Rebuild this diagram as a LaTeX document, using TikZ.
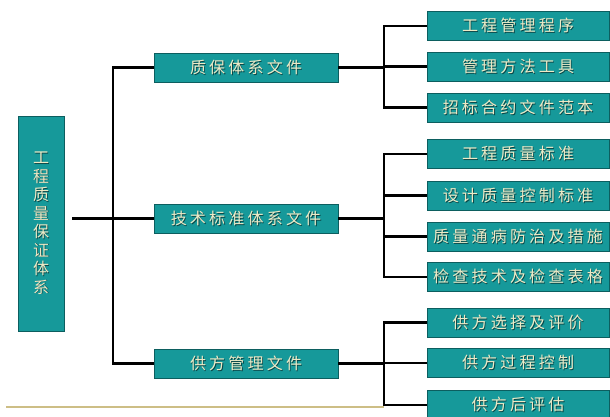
\documentclass[tikz,border=0pt]{standalone}
\usepackage{fontspec}
\newfontfamily\cjk[LetterSpace=20]{Noto Sans CJK SC}
\newfontfamily\cjkv{Noto Sans CJK SC}
\definecolor{boxfill}{HTML}{16999A}
\definecolor{boxline}{HTML}{0C5E5F}
\definecolor{txt}{HTML}{EEEAC6}
\definecolor{txtshadow}{HTML}{0A4647}
\definecolor{tanline}{HTML}{CDBE86}
\newcommand\shtxt[1]{\makebox[0pt][l]{\hspace{0.9pt}\raisebox{-0.9pt}{\textcolor{txtshadow}{#1}}}#1}
\begin{document}
\begin{tikzpicture}[x=1pt,y=-1pt,
  box/.style={draw=boxline, line width=0.8pt, fill=boxfill, minimum height=29pt,
    inner sep=0pt, text=txt, font=\cjk\fontsize{16}{18}\selectfont},
  midbox/.style={box, minimum width=184pt},
  leafbox/.style={box, minimum width=182pt},
  conn/.style={line width=2.2pt, draw=black, line join=miter}]
\useasboundingbox (0,0) rectangle (610,416);
\clip (0,0) rectangle (610,416);
\fill[white] (0,0) rectangle (610,416);
% junction columns
\coordinate (ja) at (113,0);
\coordinate (jb) at (384,0);
\coordinate (tl) at (6,407);
% decorative tan rule
\draw[tanline, line width=1.6pt] (tl) -- (tl -| jb);
% left box
\node[box, minimum width=46pt, minimum height=215pt, align=center,
  font=\cjkv\fontsize{16}{18.5}\selectfont] (L) at (41,223.5)
  {\shtxt{工}\\\shtxt{程}\\\shtxt{质}\\\shtxt{量}\\\shtxt{保}\\\shtxt{证}\\\shtxt{体}\\\shtxt{系}};
% middle boxes
\node[midbox] (M1) at (246,67.5) {\shtxt{质保体系文件}};
\node[midbox] (M2) at (246,218.5) {\shtxt{技术标准体系文件}};
\node[midbox] (M3) at (246,363.5) {\shtxt{供方管理文件}};
% right boxes
\node[leafbox] (R1) at (518,26) {\shtxt{工程管理程序}};
\node[leafbox] (R2) at (518,66.5) {\shtxt{管理方法工具}};
\node[leafbox] (R3) at (518,107.5) {\shtxt{招标合约文件范本}};
\node[leafbox] (R4) at (518,154) {\shtxt{工程质量标准}};
\node[leafbox] (R5) at (518,195.5) {\shtxt{设计质量控制标准}};
\node[leafbox] (R6) at (518,236.5) {\shtxt{质量通病防治及措施}};
\node[leafbox] (R7) at (518,277) {\shtxt{检查技术及检查表格}};
\node[leafbox] (R8) at (518,322.5) {\shtxt{供方选择及评价}};
\node[leafbox] (R9) at (518,363) {\shtxt{供方过程控制}};
\node[leafbox] (R10) at (518,405) {\shtxt{供方后评估}};
% connectors: left level
\draw[conn] ([xshift=8pt]L.east |- M2.west) -- (M2.west);
\draw[conn] (M1.west) -| (ja |- M3.west) -- (M3.west);
% group 1
\draw[conn] (M1.east) -- (jb |- M1.east);
\draw[conn] (R1.west) -| (jb |- R3.west) -- (R3.west);
\draw[conn] (jb |- R2.west) -- (R2.west);
% group 2
\draw[conn] (M2.east) -- (jb |- M2.east);
\draw[conn] (R4.west) -| (jb |- R7.west) -- (R7.west);
\draw[conn] (jb |- R5.west) -- (R5.west);
\draw[conn] (jb |- R6.west) -- (R6.west);
% group 3
\draw[conn] (M3.east) -- (jb |- M3.east);
\draw[conn] (R8.west) -| (jb |- R10.west) -- (R10.west);
\draw[conn] (jb |- R9.west) -- (R9.west);
\end{tikzpicture}
\end{document}
